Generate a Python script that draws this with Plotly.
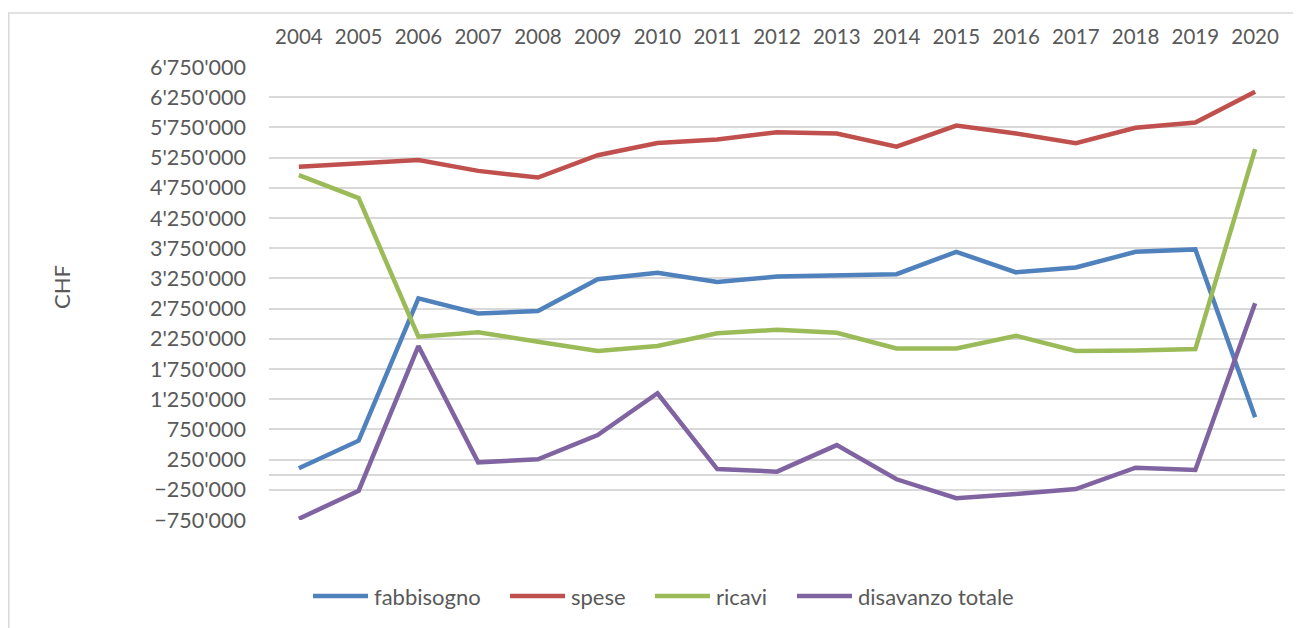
import plotly.graph_objects as go

years = [str(y) for y in range(2004, 2021)]

fabbisogno = [106000, 563000, 2920000, 2670000, 2710000, 3235000, 3345000, 3190000, 3280000,
              3300000, 3320000, 3690000, 3350000, 3430000, 3690000, 3730000, 950000]
spese = [5100000, 5156000, 5210000, 5030000, 4920000, 5290000, 5490000, 5550000, 5670000,
         5650000, 5430000, 5780000, 5650000, 5490000, 5745000, 5830000, 6340000]
ricavi = [4960000, 4580000, 2285000, 2360000, 2200000, 2050000, 2130000, 2340000, 2400000,
          2350000, 2090000, 2090000, 2300000, 2050000, 2055000, 2080000, 5390000]
disavanzo = [-730000, -265000, 2130000, 205000, 255000, 657000, 1348000, 94000, 50000,
             490000, -76000, -390000, -320000, -237000, 116000, 78000, 2840000]

series = [
    ("fabbisogno", fabbisogno, "#4F81BD"),
    ("spese", spese, "#C0504D"),
    ("ricavi", ricavi, "#9BBB59"),
    ("disavanzo totale", disavanzo, "#8064A2"),
]

FONT = "Lato, 'Open Sans', sans-serif"
GREY = "#595959"
GRID = "#d9d9d9"

# the page body adds an 8px margin, so the figure is drawn 8px smaller
OFF = 8
W, H = 1301 - OFF, 628 - OFF
# plot area in screen pixels
X0, X1, Y0, Y1 = 269, 1285, 67, 520
pw, ph = X1 - X0, Y1 - Y0


def px(x):
    return (x - X0) / pw


def py(y):
    return (Y1 - y) / ph


fig = go.Figure()
for name, vals, col in series:
    fig.add_trace(go.Scatter(
        x=years, y=vals, name=name, mode="lines",
        line=dict(color=col, width=4.5),
    ))

# hand-made legend, Excel style (long line samples)
legend_x = [313, 510, 655, 797]
legend_y = 596
shapes = [dict(
    type="rect", xref="paper", yref="paper",
    x0=px(8.75), x1=px(1320), y0=py(660), y1=py(13),
    line=dict(color=GRID, width=1.5), fillcolor="rgba(0,0,0,0)", layer="below",
)]
annotations = [dict(
    text="CHF", xref="paper", yref="paper", x=px(61), y=py(287),
    textangle=-90, showarrow=False, xanchor="center", yanchor="middle",
    font=dict(size=22, color=GREY),
)]
for (name, _, col), lx in zip(series, legend_x):
    shapes.append(dict(
        type="line", xref="paper", yref="paper",
        x0=px(lx), x1=px(lx + 55), y0=py(legend_y), y1=py(legend_y),
        line=dict(color=col, width=4.5),
    ))
    annotations.append(dict(
        text=name, xref="paper", yref="paper", x=px(lx + 59), y=py(legend_y),
        showarrow=False, xanchor="left", yanchor="middle",
        font=dict(size=22, color=GREY),
    ))

fig.update_layout(
    width=W, height=H,
    margin=dict(l=X0 - OFF, r=W - (X1 - OFF), t=Y0 - OFF, b=H - (Y1 - OFF), autoexpand=False),
    paper_bgcolor="white",
    plot_bgcolor="white",
    font=dict(family=FONT, size=20, color=GREY),
    separators=".'",
    showlegend=False,
    xaxis=dict(
        type="category", side="top", range=[-0.5, 16.5],
        showgrid=False, showline=False, ticks="", ticklabelstandoff=18,
        tickfont=dict(size=20.5, color=GREY),
    ),
    yaxis=dict(
        range=[-750000, 6750000], tick0=-750000, dtick=500000,
        tickformat=",.0f", showgrid=True, gridcolor=GRID, gridwidth=1.5,
        zeroline=True, zerolinecolor=GRID, zerolinewidth=1.5,
        showline=False, ticks="", ticklabelstandoff=22,
        tickfont=dict(size=21.5, color=GREY),
    ),
    shapes=shapes,
    annotations=annotations,
)

fig.write_html("out.html")
